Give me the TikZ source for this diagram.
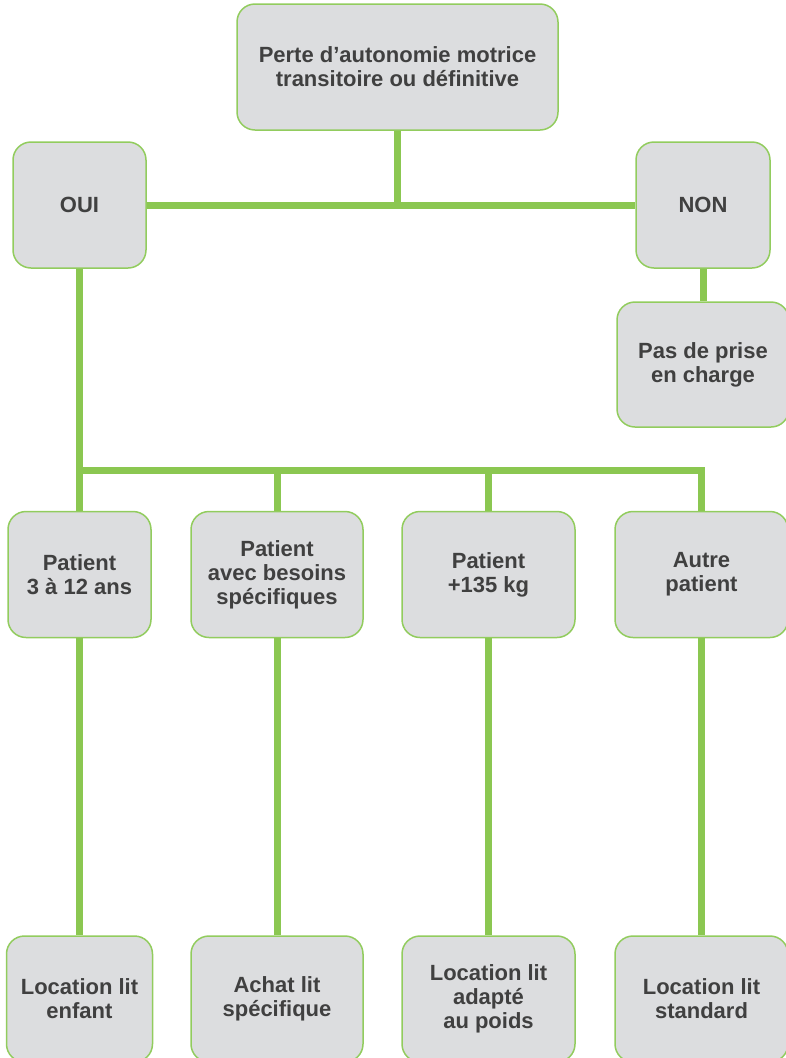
\documentclass[tikz,border=0pt]{standalone}
\usepackage{fontspec}
\setmainfont{Liberation Sans}
\usetikzlibrary{positioning}
\definecolor{vert}{HTML}{8BC751}
\definecolor{bord}{HTML}{92CC5E}
\definecolor{gris}{HTML}{DCDDDF}
\definecolor{texte}{HTML}{404040}

\begin{document}
\begin{tikzpicture}[x=1pt, y=-1pt,
      cadre/.style ={rectangle, rounded corners=18pt, draw=bord, line width=1.5pt, fill=gris,
                     text=texte, font=\fontsize{22}{24}\selectfont\bfseries, align=center,
                     inner sep=0pt, minimum height=126pt},
      trait/.style ={draw=vert, line width=7pt}
    ]
    \useasboundingbox (0,0) rectangle (785,1058);

    \node [cadre, minimum width=321pt] (perte) at (397.5,67) {Perte d’autonomie motrice\\transitoire ou définitive} ;
    \node [cadre, minimum width=133pt] (oui) at (79.5,205) {OUI} ;
    \node [cadre, minimum width=134pt] (non) at (703,205) {NON} ;
    \node [cadre, minimum width=172pt, minimum height=125pt] (pas) at (703,364.5) {Pas de prise\\en charge} ;

    \node [cadre, minimum width=143pt] (enfant) at (79.5,574.5) {Patient\\3 à 12 ans} ;
    \node [cadre, minimum width=172pt] (besoins) at (277,574.5) {Patient\\avec besoins\\spécifiques} ;
    \node [cadre, minimum width=173pt] (poids) at (488.5,574.5) {Patient\\+135 kg} ;
    \node [cadre, minimum width=173pt] (autre) at (701.5,574.5) {Autre\\patient} ;

    \node [cadre, minimum width=146pt] (locenf) at (79.5,999) {Location lit\\enfant} ;
    \node [cadre, minimum width=172pt] (achat) at (277,999) {Achat lit\\spécifique} ;
    \node [cadre, minimum width=173pt] (locpoids) at (488.5,999) {Location lit\\adapté\\au poids} ;
    \node [cadre, minimum width=173pt] (locstd) at (701.5,999) {Location lit\\standard} ;

    \coordinate (bus) at (0,470) ;

    \draw [trait] (perte) -- (perte |- oui) ;
    \draw [trait] (oui) -- (non) ;
    \draw [trait] (non) -- (pas) ;
    \draw [trait] (oui) -- (enfant) ;
    \draw [trait] (enfant |- bus) -| (autre) ;
    \draw [trait] (besoins |- bus) -- (besoins) ;
    \draw [trait] (poids |- bus) -- (poids) ;

    \draw [trait] (enfant) -- (locenf) ;
    \draw [trait] (besoins) -- (achat) ;
    \draw [trait] (poids) -- (locpoids) ;
    \draw [trait] (autre) -- (locstd) ;
  \end{tikzpicture}
\end{document}
